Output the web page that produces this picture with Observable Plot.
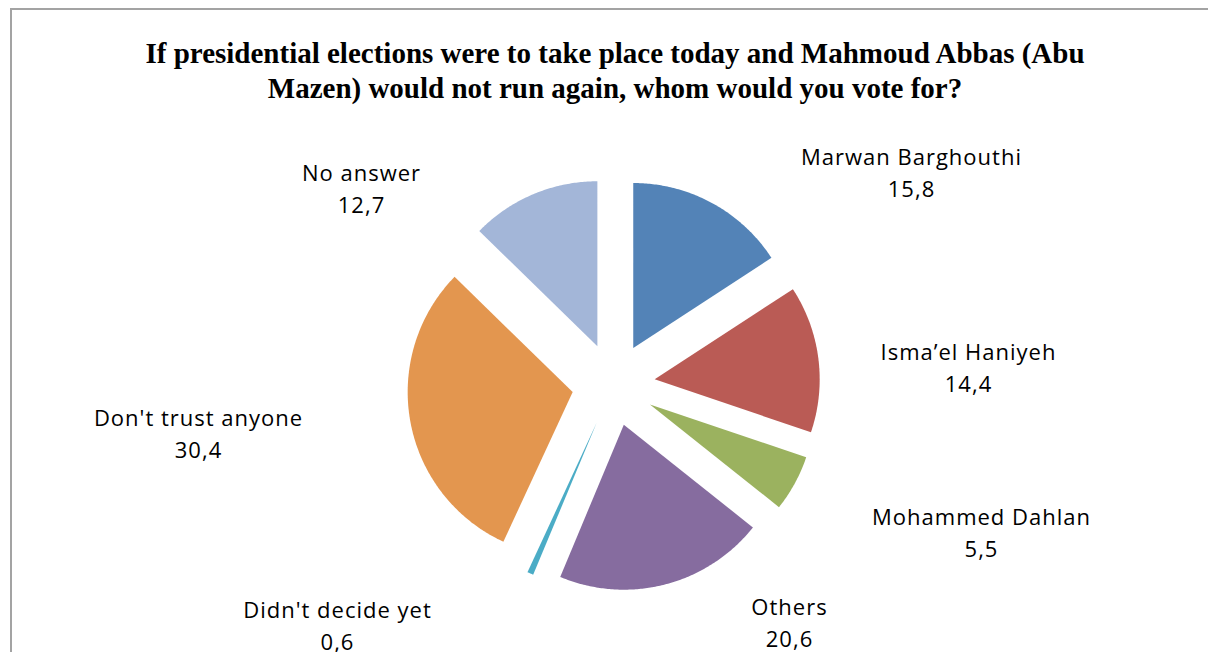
<!DOCTYPE html>
<html>
<head>
<meta charset="utf-8">
<script src="https://cdn.jsdelivr.net/npm/d3@7"></script>
<script src="https://cdn.jsdelivr.net/npm/@observablehq/plot@0.6"></script>
<style>
  html, body { margin: 0; padding: 0; background: #fff; overflow: hidden; }
  #wrap { position: relative; width: 1208px; height: 652px; overflow: hidden; }
  #border { position: absolute; left: 10px; top: 8px; width: 1260px; height: 720px; border: 2px solid #a3a3a3; box-sizing: border-box; }
  #title { position: absolute; left: 0; top: 36px; width: 1230px; text-align: center;
    font-family: "Liberation Serif", serif; font-weight: bold; font-size: 29px; line-height: 35px; color: #000; }
  #chart { position: absolute; left: 0; top: 0; }
  #chart text { letter-spacing: 1px; }
</style>
</head>
<body>
<div id="wrap">
  <div id="border"></div>
  <div id="chart"></div>
  <div id="title">If presidential elections were to take place today and Mahmoud Abbas (Abu<br>Mazen) would not run again, whom would you vote for?</div>
</div>
<script>
// ---- data ----
const categories = ["Marwan Barghouthi", "Isma’el Haniyeh", "Mohammed Dahlan", "Others", "Didn't decide yet", "Don't trust anyone", "No answer"];
const values = [15.8, 14.4, 5.5, 20.6, 0.6, 30.4, 12.7];
const valueLabels = ["15,8", "14,4", "5,5", "20,6", "0,6", "30,4", "12,7"];

// ---- style / layout ----
const colors = ["#5383B7", "#BA5B55", "#9BB25F", "#866C9F", "#4BACC6", "#E3964F", "#A3B6D8"];
const W = 1208, H = 652;
const cx = 613, cy = 384, R = 165, explode = 41.5;
// label block centres (layout only)
const labelAt = [[911, 170], [968, 365], [981, 530], [789, 620], [337, 623], [198, 431], [361, 186]];

const arcs = d3.pie().sort(null).value(d => d)(values);
const pts = [];
arcs.forEach((a, i) => {
  const mid = (a.startAngle + a.endAngle) / 2;
  const ax = cx + explode * Math.sin(mid), ay = cy - explode * Math.cos(mid);
  pts.push({k: categories[i], x: ax, y: ay});
  const n = Math.max(2, Math.ceil((a.endAngle - a.startAngle) / 0.01));
  for (let j = 0; j <= n; j++) {
    const t = a.startAngle + (a.endAngle - a.startAngle) * j / n;
    pts.push({k: categories[i], x: ax + R * Math.sin(t), y: ay - R * Math.cos(t)});
  }
});
const labels = categories.map((c, i) => ({k: c, text: c + "\n" + valueLabels[i], x: labelAt[i][0], y: labelAt[i][1]}));

const chart = Plot.plot({
  width: W, height: H, margin: 0,
  x: {domain: [0, W], range: [0, W], axis: null},
  y: {domain: [0, H], range: [0, H], axis: null},
  color: {domain: categories, range: colors},
  style: {background: "transparent"},
  marks: [
    Plot.line(pts, {x: "x", y: "y", z: "k", fill: "k", stroke: null, curve: "linear"}),
    Plot.text(labels, {x: "x", y: "y", text: "text", lineHeight: 1.45, fontSize: 22,
      fontFamily: "'Open Sans', sans-serif", fill: "#000", textAnchor: "middle", lineAnchor: "middle"})
  ]
});
document.getElementById("chart").appendChild(chart);
</script>
</body>
</html>
